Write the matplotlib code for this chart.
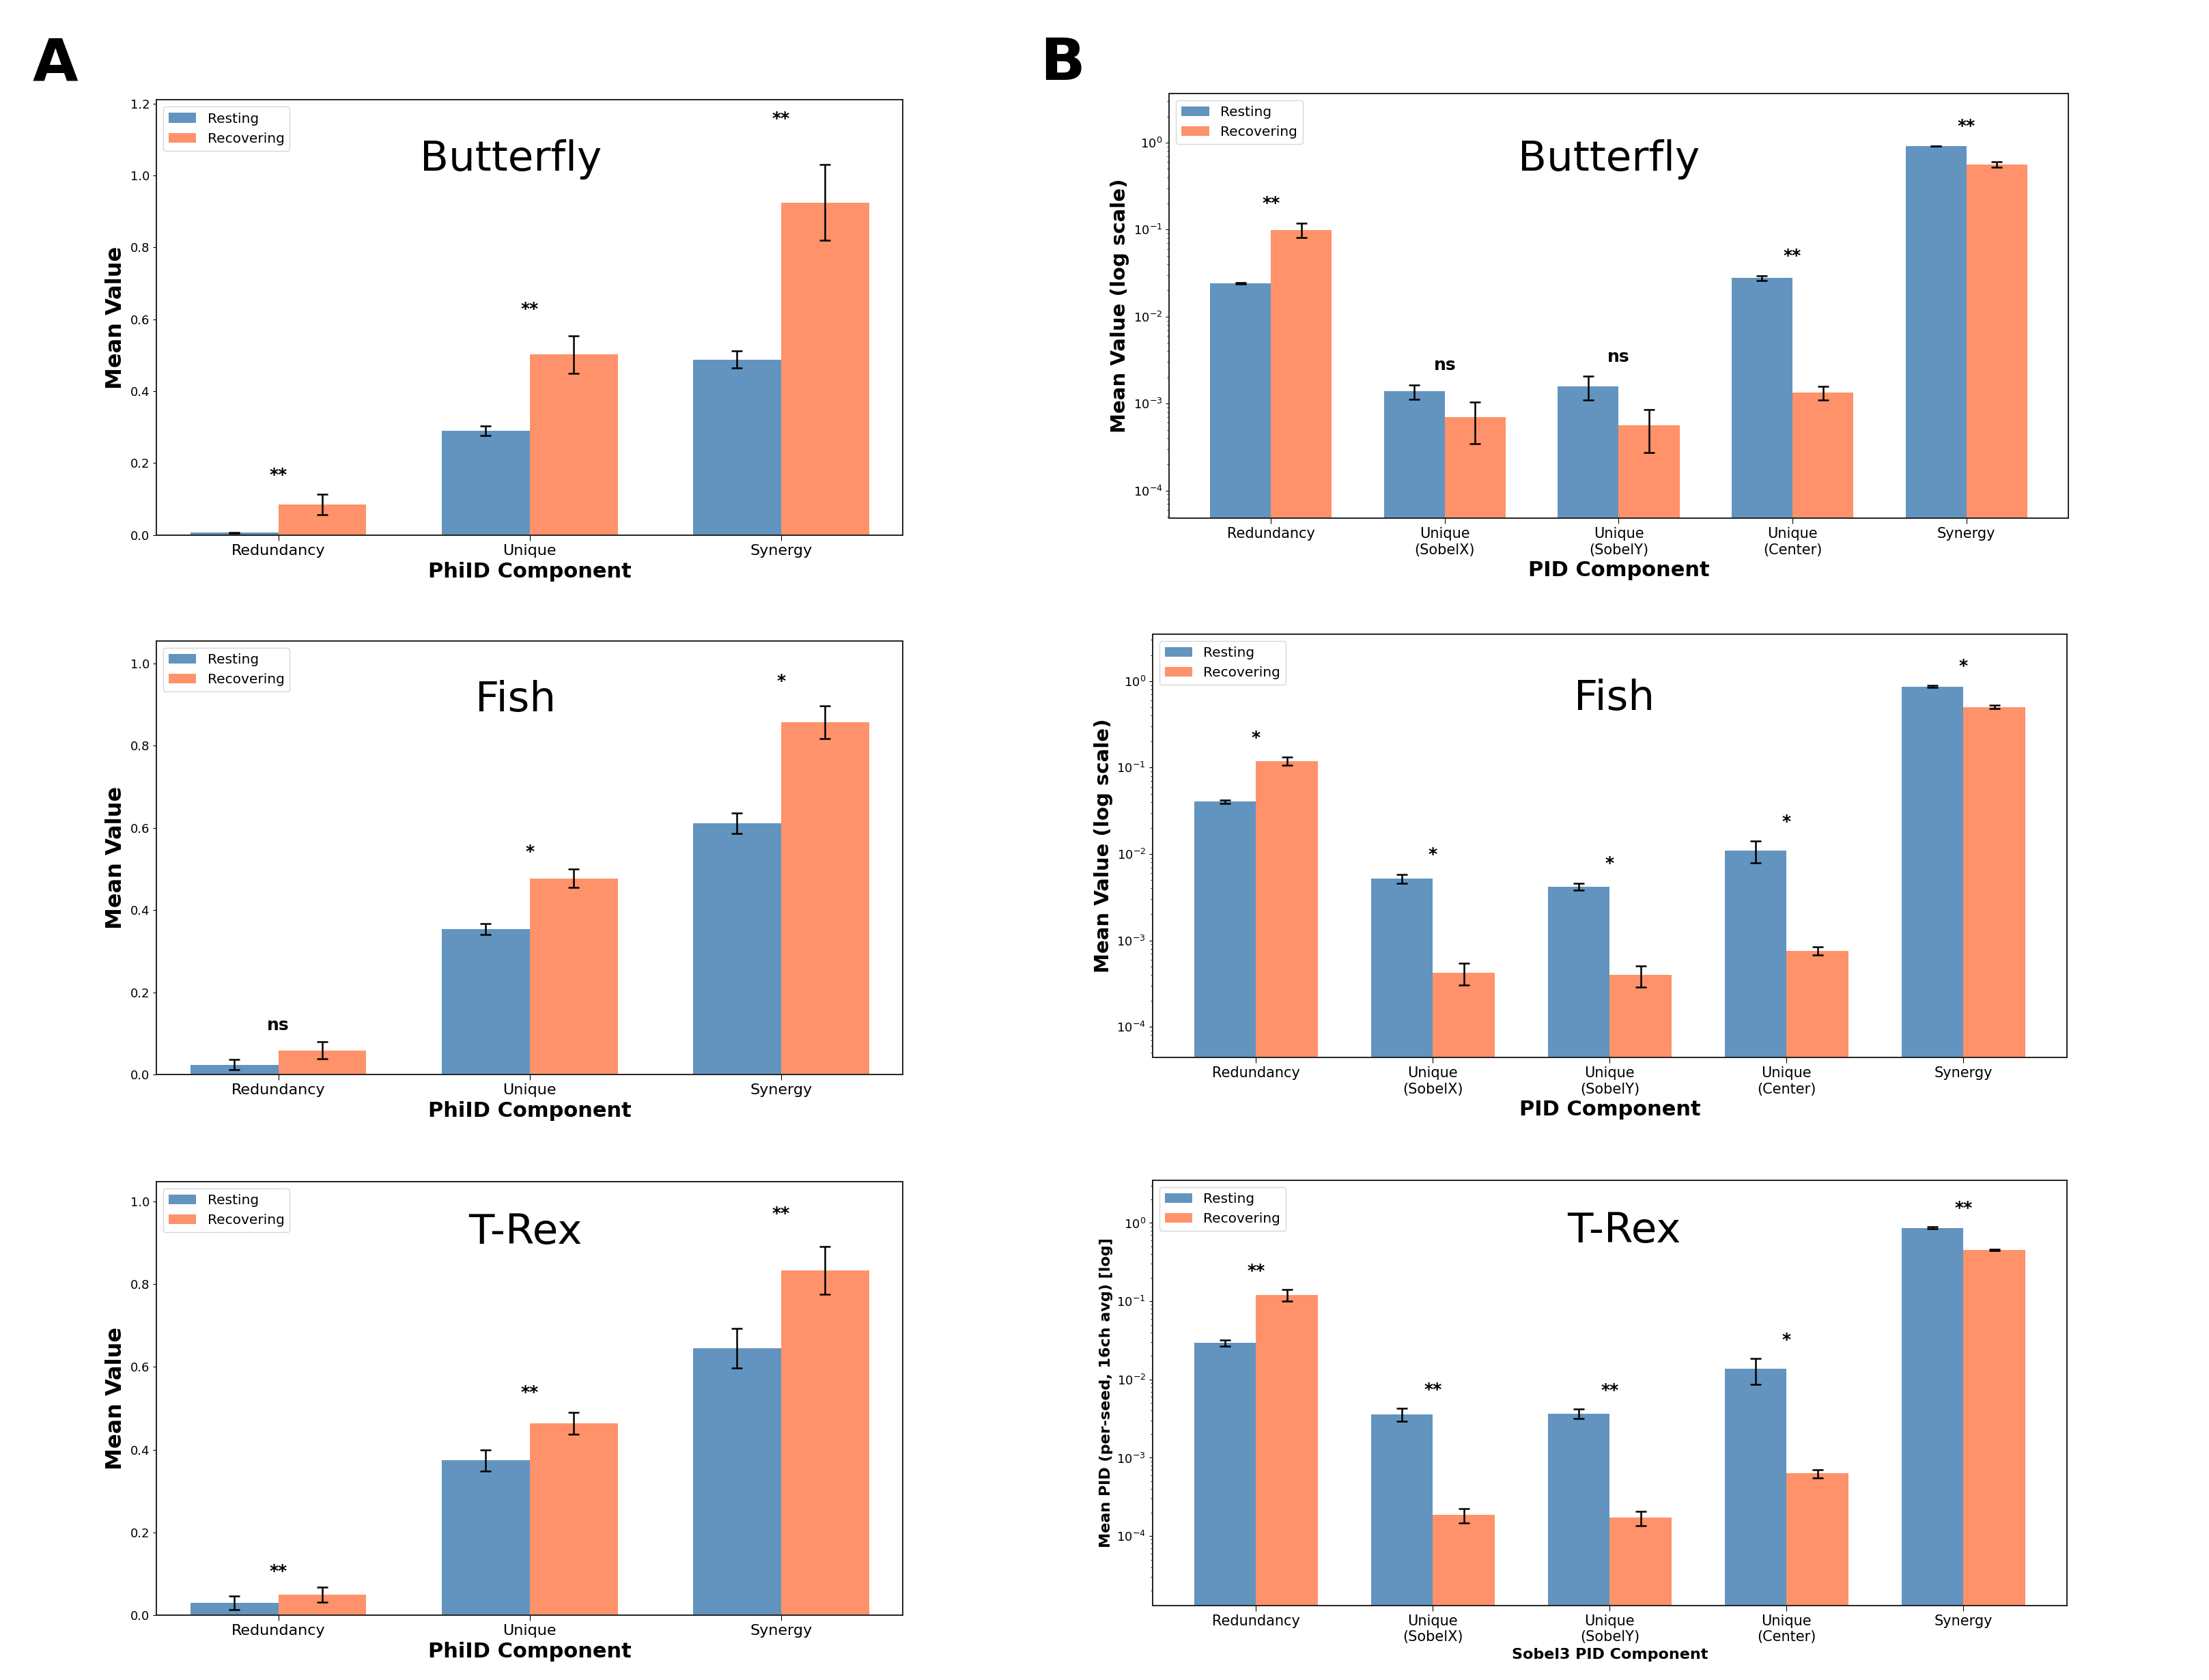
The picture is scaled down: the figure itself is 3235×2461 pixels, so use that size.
import numpy as np
import matplotlib
matplotlib.use("Agg")
from matplotlib import pyplot as plt

# categories
phiid_components = ['Redundancy', 'Unique', 'Synergy']
pid_components = ['Redundancy', 'Unique\n(SobelX)', 'Unique\n(SobelY)', 'Unique\n(Center)', 'Synergy']

# PhiID (panel A)
butterfly_phiid_rest = [0.007, 0.290, 0.488]
butterfly_phiid_rest_err = [0.001, 0.013, 0.024]
butterfly_phiid_rec = [0.085, 0.502, 0.925]
butterfly_phiid_rec_err = [0.029, 0.052, 0.105]
butterfly_phiid_sig = ['**', '**', '**']

fish_phiid_rest = [0.024, 0.354, 0.611]
fish_phiid_rest_err = [0.012, 0.013, 0.025]
fish_phiid_rec = [0.059, 0.477, 0.856]
fish_phiid_rec_err = [0.020, 0.022, 0.040]
fish_phiid_sig = ['ns', '*', '*']

trex_phiid_rest = [0.030, 0.374, 0.645]
trex_phiid_rest_err = [0.016, 0.026, 0.048]
trex_phiid_rec = [0.050, 0.464, 0.834]
trex_phiid_rec_err = [0.018, 0.027, 0.058]
trex_phiid_sig = ['**', '**', '**']

# PID (panel B, log scale)
butterfly_pid_rest = [0.0242, 1.38e-3, 1.58e-3, 0.0278, 0.912]
butterfly_pid_rest_err = [0.0006, 2.6e-4, 4.8e-4, 0.0018, 0.005]
butterfly_pid_rec = [0.0995, 6.98e-4, 5.65e-4, 1.34e-3, 0.56]
butterfly_pid_rec_err = [0.019, 3.5e-4, 2.9e-4, 2.5e-4, 0.04]
butterfly_pid_sig = ['**', 'ns', 'ns', '**', '**']

fish_pid_rest = [0.0404, 5.18e-3, 4.19e-3, 0.011, 0.869]
fish_pid_rest_err = [0.002, 6.5e-4, 4.0e-4, 0.0031, 0.02]
fish_pid_rec = [0.119, 4.23e-4, 3.98e-4, 7.6e-4, 0.504]
fish_pid_rec_err = [0.013, 1.2e-4, 1.1e-4, 8e-5, 0.02]
fish_pid_sig = ['*', '*', '*', '*', '*']

trex_pid_rest = [0.0294, 3.6e-3, 3.67e-3, 0.0136, 0.865]
trex_pid_rest_err = [0.0025, 7e-4, 5e-4, 0.005, 0.03]
trex_pid_rec = [0.121, 1.85e-4, 1.71e-4, 6.3e-4, 0.45]
trex_pid_rec_err = [0.02, 3.9e-5, 3.5e-5, 8e-5, 0.01]
trex_pid_sig = ['**', '**', '**', '*', '**']

REST_COLOR = 'steelblue'
REC_COLOR = 'coral'


def draw_panel(ax, cats, rest, rest_err, rec, rec_err, sig, title,
               xlabel, ylabel, log=False, ylim=None, xlabel_size=22,
               ylabel_size=23, xtick_size=16, title_pos=(0.49, 0.86)):
    x = np.arange(len(cats))
    w = 0.35
    ekw = dict(elinewidth=1.8, capthick=1.8)
    ax.bar(x - w / 2, rest, w, yerr=rest_err, capsize=6, color=REST_COLOR,
           alpha=0.85, label='Resting', error_kw=ekw)
    ax.bar(x + w / 2, rec, w, yerr=rec_err, capsize=6, color=REC_COLOR,
           alpha=0.85, label='Recovering', error_kw=ekw)
    if log:
        ax.set_yscale('log')

    # significance markers above the taller bar
    for i in range(len(cats)):
        top = max(rest[i] + rest_err[i], rec[i] + rec_err[i])
        if log:
            y = top * 1.35
        else:
            y = top + max(rest_err[i], rec_err[i])
        ax.text(x[i], y, sig[i], ha='center', va='bottom', fontsize=18,
                fontweight='bold')

    ax.set_xticks(x)
    ax.set_xticklabels(cats, fontsize=xtick_size)
    ax.tick_params(axis='y', labelsize=13)
    ax.tick_params(axis='x', length=6)
    ax.set_xlabel(xlabel, fontsize=xlabel_size, fontweight='bold')
    ax.set_ylabel(ylabel, fontsize=ylabel_size, fontweight='bold')
    if ylim is not None:
        ax.set_ylim(*ylim)
    ax.text(title_pos[0], title_pos[1], title, transform=ax.transAxes,
            ha='center', va='center', fontsize=44)
    ax.legend(loc='upper left', fontsize=14.5)
    for s in ax.spines.values():
        s.set_linewidth(1.4)
        s.set_color('#222222')


def main():
    fig = plt.figure(figsize=(32.35, 24.61), dpi=100)

    # panel A - PhiID
    axA1 = fig.add_axes([0.0708, 0.6815, 0.338, 0.259])
    draw_panel(axA1, phiid_components, butterfly_phiid_rest, butterfly_phiid_rest_err,
               butterfly_phiid_rec, butterfly_phiid_rec_err, butterfly_phiid_sig,
               'Butterfly', 'PhiID Component', 'Mean Value', ylim=(0, 1.21),
               title_pos=(0.475, 0.864))
    axA1.set_yticks(np.arange(0, 1.21, 0.2))

    axA2 = fig.add_axes([0.0708, 0.3604, 0.338, 0.258])
    draw_panel(axA2, phiid_components, fish_phiid_rest, fish_phiid_rest_err,
               fish_phiid_rec, fish_phiid_rec_err, fish_phiid_sig,
               'Fish', 'PhiID Component', 'Mean Value', ylim=(0, 1.054),
               title_pos=(0.481, 0.864))

    axA3 = fig.add_axes([0.0708, 0.0386, 0.338, 0.258])
    draw_panel(axA3, phiid_components, trex_phiid_rest, trex_phiid_rest_err,
               trex_phiid_rec, trex_phiid_rec_err, trex_phiid_sig,
               'T-Rex', 'PhiID Component', 'Mean Value', ylim=(0, 1.048),
               title_pos=(0.494, 0.883))

    # panel B - PID
    axB1 = fig.add_axes([0.5293, 0.6915, 0.4069, 0.253])
    draw_panel(axB1, pid_components, butterfly_pid_rest, butterfly_pid_rest_err,
               butterfly_pid_rec, butterfly_pid_rec_err, butterfly_pid_sig,
               'Butterfly', 'PID Component', 'Mean Value (log scale)', log=True,
               ylim=(4.8e-5, 3.7), ylabel_size=21, xtick_size=15,
               title_pos=(0.489, 0.844))

    axB2 = fig.add_axes([0.5217, 0.3705, 0.414, 0.252])
    draw_panel(axB2, pid_components, fish_pid_rest, fish_pid_rest_err,
               fish_pid_rec, fish_pid_rec_err, fish_pid_sig,
               'Fish', 'PID Component', 'Mean Value (log scale)', log=True,
               ylim=(4.4e-5, 3.5), ylabel_size=21, xtick_size=15,
               title_pos=(0.505, 0.847))

    axB3 = fig.add_axes([0.5217, 0.0444, 0.414, 0.253])
    draw_panel(axB3, pid_components, trex_pid_rest, trex_pid_rest_err,
               trex_pid_rec, trex_pid_rec_err, trex_pid_sig,
               'T-Rex', 'Sobel3 PID Component', 'Mean PID (per-seed, 16ch avg) [log]',
               log=True, ylim=(1.3e-5, 3.5), xlabel_size=16, ylabel_size=16,
               xtick_size=15, title_pos=(0.516, 0.88))

    fig.text(0.025, 0.962, 'A', fontsize=62, fontweight='bold', ha='center', va='center')
    fig.text(0.481, 0.962, 'B', fontsize=62, fontweight='bold', ha='center', va='center')

    fig.savefig('out.png', dpi=100)


if __name__ == '__main__':
    main()
